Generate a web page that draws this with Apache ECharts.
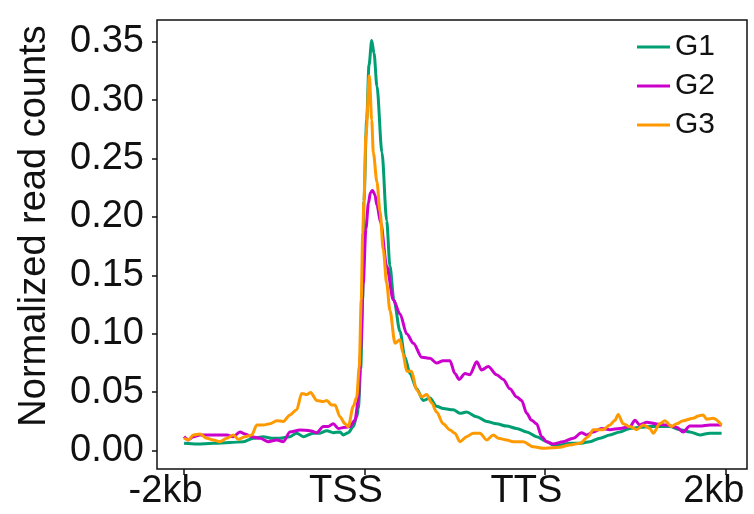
<!DOCTYPE html>
<html>
<head>
<meta charset="utf-8">
<script src="https://cdn.jsdelivr.net/npm/echarts@6/dist/echarts.min.js"></script>
<style>
  html, body { margin: 0; padding: 0; background: #fff; }
  #main { width: 754px; height: 514px; }
</style>
</head>
<body>
<div id="main"></div>
<script>
// position along the meta-gene: 0 = -2kb, 100 = TSS, 200 = TTS, 300 = +2kb
const tickPos = [0, 100, 200, 300];
const tickLabels = ['-2kb', 'TSS', 'TTS', '2kb'];
const yTicks = [0, 0.05, 0.1, 0.15, 0.2, 0.25, 0.3, 0.35];
const seriesNames = ['G1', 'G2', 'G3'];

const g1X = [0,7.0,16.2,25.5,32.9,38.4,43.9,48.6,53.2,58.7,62.4,66.1,71.6,75.3,79.1,82.7,86.4,88.3,91.0,93.8,95.7,96.6,97.9,99.0,99.7,101.2,102.5,104.0,105.3,106.9,109.7,112.3,114.1,116.3,119.7,122.4,125.2,128.9,132.6,136.3,140.0,143.6,149.2,152.9,156.6,162.2,167.7,173.2,178.8,184.3,189.9,195.4,200.9,204.6,208.3,213.8,219.4,224.9,230.5,236.0,241.5,247.1,252.6,258.2,263.7,269.2,274.8,280.3,285.9,291.4,297.9];
const g1Y = [0.0063,0.0057,0.0063,0.0069,0.0077,0.0106,0.012,0.0106,0.0106,0.012,0.015,0.012,0.015,0.015,0.0171,0.0154,0.016,0.0134,0.0154,0.0206,0.029,0.036,0.07,0.129,0.214,0.283,0.33,0.351,0.34,0.312,0.255,0.197,0.158,0.129,0.102,0.08,0.066,0.053,0.043,0.045,0.038,0.036,0.035,0.032,0.033,0.029,0.025,0.023,0.021,0.019,0.016,0.012,0.0077,0.0049,0.0049,0.0063,0.0063,0.0077,0.0106,0.0134,0.016,0.019,0.020,0.0206,0.0206,0.0206,0.018,0.016,0.0134,0.015,0.015];

const g2X = [0,2.4,5.2,8.9,18.1,23.7,27.3,31.0,33.8,37.5,42.1,46.7,51.4,55.0,58.7,64.3,69.8,73.5,77.2,79.9,82.7,85.5,89.2,91.9,94.7,96.6,97.9,99.3,100.8,102.2,103.3,104.5,105.8,106.9,109.0,112.3,116.0,119.7,123.4,127.1,131.7,136.3,140.0,143.6,147.4,150.1,152.5,155.7,158.4,162.2,164.9,168.6,173.2,176.9,180.6,184.3,187.1,189.9,192.6,195.4,198.2,200.9,204.6,210.1,215.7,220.3,223.1,226.8,231.4,236.0,241.5,247.1,249.9,252.6,256.3,261.9,267.4,273.0,276.6,280.3,285.9,291.4,297.9];
const g2Y = [0.012,0.0092,0.012,0.0134,0.0134,0.0134,0.012,0.016,0.0143,0.012,0.0106,0.0077,0.0092,0.0077,0.016,0.0177,0.0171,0.0154,0.0206,0.0206,0.023,0.019,0.020,0.0206,0.026,0.043,0.086,0.143,0.19,0.212,0.221,0.2226,0.219,0.21,0.195,0.158,0.129,0.117,0.1,0.092,0.080,0.079,0.075,0.077,0.077,0.066,0.061,0.066,0.065,0.076,0.069,0.072,0.065,0.061,0.053,0.046,0.043,0.032,0.026,0.023,0.012,0.0077,0.0057,0.0077,0.0106,0.0154,0.0134,0.016,0.019,0.018,0.019,0.0206,0.026,0.022,0.0243,0.0229,0.022,0.020,0.016,0.0211,0.0211,0.022,0.022];

const g3X = [0,2.4,5.2,8.9,12.6,16.2,19.9,23.7,27.3,30.1,33.8,37.5,40.3,43.9,47.6,51.4,55.0,58.7,62.4,65.2,68.0,70.2,73.5,77.2,79.1,81.8,83.7,86.4,89.2,91.0,93.8,95.7,97.1,98.2,99.0,99.7,100.8,102.7,104.0,104.9,106.9,108.6,110.4,112.3,114.1,116.9,119.7,121.2,123.4,126.1,128.9,131.7,134.5,137.2,140.0,143.6,147.4,150.1,152.9,156.6,160.3,164.0,167.7,171.4,174.2,178.8,182.4,188.0,193.5,199.1,204.6,208.3,213.8,219.4,224.0,226.8,232.4,236.0,238.8,240.6,243.4,247.1,250.8,254.5,258.2,260.0,263.7,266.5,270.2,273.0,276.6,282.2,285.0,287.7,289.6,293.3,297.9];
const g3Y = [0.0106,0.0092,0.0134,0.0143,0.0106,0.0092,0.0077,0.0106,0.0134,0.0097,0.012,0.0134,0.022,0.022,0.023,0.0257,0.025,0.0306,0.035,0.049,0.048,0.0497,0.043,0.042,0.043,0.039,0.039,0.029,0.023,0.0206,0.038,0.046,0.072,0.129,0.186,0.214,0.27,0.3208,0.283,0.255,0.23,0.205,0.172,0.143,0.12,0.092,0.095,0.084,0.068,0.068,0.052,0.046,0.048,0.041,0.033,0.023,0.0177,0.015,0.0077,0.012,0.015,0.015,0.0092,0.0134,0.0106,0.0092,0.0077,0.0077,0.0034,0.002,0.0025,0.003,0.0049,0.0063,0.012,0.018,0.018,0.022,0.026,0.031,0.023,0.0206,0.018,0.022,0.019,0.015,0.023,0.0257,0.0206,0.023,0.0257,0.0277,0.0297,0.0306,0.0269,0.0277,0.022];

const colors = ['#009E73', '#CC00CC', '#FF9900'];
const FONT = '"Liberation Sans", Arial, sans-serif';

const zip = (xs, ys) => xs.map((x, i) => [x, ys[i]]);
const allX = [g1X, g2X, g3X];
const allY = [g1Y, g2Y, g3Y];

var myChart = echarts.init(document.getElementById('main'));
myChart.setOption({
  animation: false,
  grid: {
    left: 157, top: 20, width: 590, height: 449,
    show: true, borderColor: '#111', borderWidth: 1.5,
    containLabel: false
  },
  legend: {
    orient: 'vertical',
    left: 637, top: 32,
    padding: 0,
    icon: 'rect',
    itemWidth: 33, itemHeight: 3, itemGap: 9,
    textStyle: { fontFamily: FONT, fontSize: 30, color: '#111', padding: [0, 0, 0, 0] },
    data: seriesNames
  },
  xAxis: {
    type: 'value',
    min: -15, max: 312,
    splitLine: { show: false },
    axisLine: { show: false, onZero: false },
    axisTick: { show: true, length: 6, customValues: tickPos, lineStyle: { color: '#111', width: 1.5 } },
    axisLabel: {
      customValues: tickPos,
      margin: 4,
      fontFamily: FONT, fontSize: 38, color: '#111',
      formatter: v => {
        const i = tickPos.indexOf(v);
        return i === 3 ? '{e|' + tickLabels[i] + '}' : '{s|' + tickLabels[i] + '}';
      },
      rich: {
        s: { fontFamily: FONT, fontSize: 38, color: '#111', padding: [0, 37, 0, 0] },
        e: { fontFamily: FONT, fontSize: 38, color: '#111', padding: [0, 23, 0, 0] }
      }
    }
  },
  yAxis: {
    type: 'value',
    min: -0.0157, max: 0.3686,
    splitLine: { show: false },
    axisLine: { show: false, onZero: false },
    axisTick: { show: true, length: 5, customValues: yTicks, lineStyle: { color: '#111', width: 1.5 } },
    axisLabel: {
      customValues: yTicks,
      margin: 13,
      fontFamily: FONT, fontSize: 38, color: '#111',
      formatter: v => v.toFixed(2)
    }
  },
  graphic: [{
    type: 'text',
    x: 35, y: 226,
    rotation: Math.PI / 2,
    style: {
      text: 'Normalized read counts',
      font: '38px ' + FONT,
      fill: '#111',
      align: 'center',
      verticalAlign: 'middle'
    }
  }],
  series: seriesNames.map((name, i) => ({
    name: name,
    type: 'line',
    data: zip(allX[i], allY[i]),
    showSymbol: false,
    symbol: 'none',
    smooth: 0.3,
    smoothMonotone: 'x',
    lineStyle: { color: colors[i], width: 3 },
    itemStyle: { color: colors[i] }
  }))
});
</script>
</body>
</html>
